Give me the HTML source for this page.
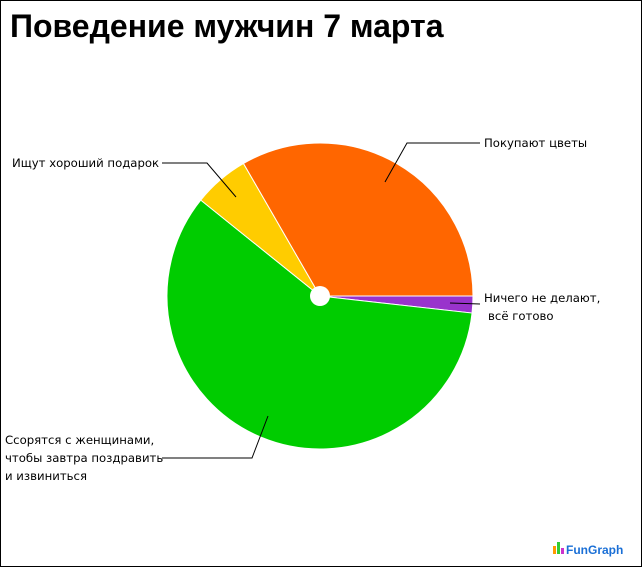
<!DOCTYPE html>
<html><head><meta charset="utf-8"><style>
html,body{margin:0;padding:0;background:#fff}
.w{position:relative;width:640px;height:565px;border:1px solid #000;overflow:hidden}
svg{position:absolute;left:-1px;top:-1px}
</style></head><body><div class="w">
<svg width="642" height="567" viewBox="0 0 642 567">
<text x="10" y="37" font-family="Liberation Sans, sans-serif" font-size="32" font-weight="bold" fill="#000">Поведение мужчин 7 марта</text>
<g stroke="#fff" stroke-width="1">
<path d="M320,296 L473,296 A153,153 0 0,1 472.05,313.06 Z" fill="#9933cc"/>
<path d="M320,296 L472.05,313.06 A153,153 0 1,1 200.8,200.1 Z" fill="#00cc00"/>
<path d="M320,296 L200.8,200.1 A153,153 0 0,1 243.5,163.5 Z" fill="#ffcc00"/>
<path d="M320,296 L243.5,163.5 A153,153 0 0,1 473,296 Z" fill="#ff6600"/>
</g>
<circle cx="320" cy="296" r="10" fill="#fff"/>
<g stroke="#000" stroke-width="1" fill="none">
<polyline points="385,182 407,143 480,143"/>
<polyline points="236,197 207,163 162,163"/>
<polyline points="450,303 480,304"/>
<polyline points="268,416 252,458 162,458"/>
</g>
<g font-family="DejaVu Sans, sans-serif" font-size="11.7" fill="#000">
<text x="484" y="147">Покупают цветы</text>
<text x="12" y="167">Ищут хороший подарок</text>
<text x="484" y="302">Ничего не делают,</text>
<text x="488" y="320">всё готово</text>
<text x="5" y="444">Ссорятся с женщинами,</text>
<text x="5" y="462">чтобы завтра поздравить</text>
<text x="5" y="480">и извиниться</text>
</g>
<rect x="553" y="546" width="3" height="8" fill="#f90"/><rect x="557" y="542" width="3" height="12" fill="#3c3"/><rect x="561" y="548" width="3" height="6" fill="#c3c"/>
<text x="566" y="554" font-family="Liberation Sans, sans-serif" font-size="12" font-weight="bold" fill="#1a6fd6">FunGraph</text>
</svg></div></body></html>
